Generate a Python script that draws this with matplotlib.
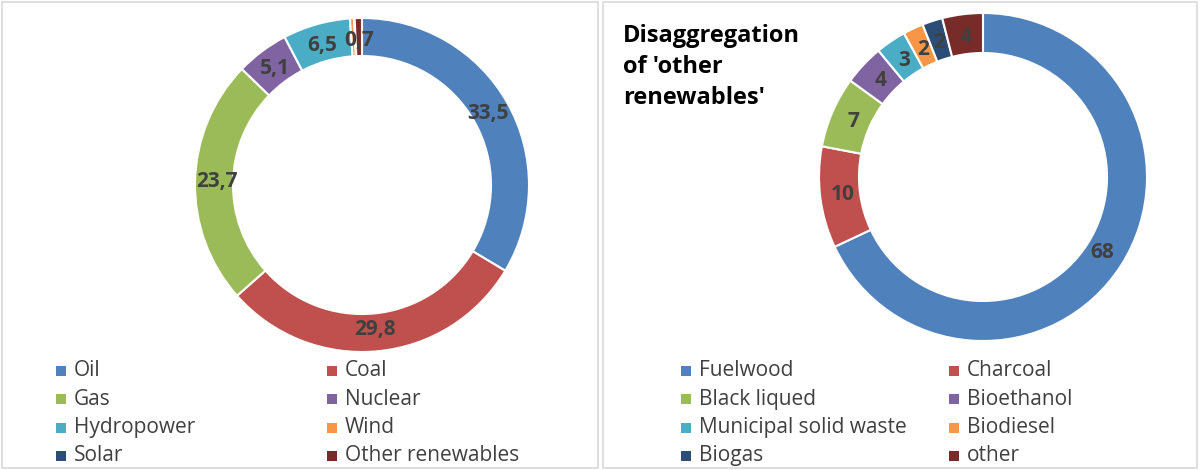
import matplotlib; matplotlib.use("Agg")
import matplotlib.pyplot as plt
from matplotlib.patches import Rectangle
import numpy as np

plt.rcParams["font.family"] = ["Open Sans", "DejaVu Sans"]

# left donut: primary energy mix
mix_labels = ["Oil", "Coal", "Gas", "Nuclear", "Hydropower", "Wind", "Solar", "Other renewables"]
mix_values = [33.5, 29.8, 23.7, 5.1, 6.5, 0.4, 0.05, 0.7]
mix_text = ["33,5", "29,8", "23,7", "5,1", "6,5", "", "", "0,7"]

# right donut: other renewables breakdown
ren_labels = ["Fuelwood", "Charcoal", "Black liqued", "Bioethanol",
              "Municipal solid waste", "Biodiesel", "Biogas", "other"]
ren_values = [68, 10, 7, 4, 3, 2, 2, 4]
ren_text = [str(v) for v in ren_values]

COLS = ["#4F81BD", "#C0504D", "#9BBB59", "#8064A2", "#4BACC6", "#F79646", "#2C4D75", "#772C2A"]
W, H = 1200, 470

fig = plt.figure(figsize=(12, 4.7), dpi=100)
ax = fig.add_axes([0, 0, 1, 1])

# panel frames
for x0, x1 in [(2, 598), (603, 1197)]:
    ax.add_patch(Rectangle((x0, 2), x1 - x0, H - 4, fill=False, ec="#D9D9D9", lw=1.2))

def donut(vals, texts, cx, cy, R, w):
    wedges, _ = ax.pie(vals, colors=COLS, startangle=90, counterclock=False,
                       radius=R, center=(cx, cy), frame=True,
                       wedgeprops=dict(width=w, edgecolor="white", linewidth=1.5))
    for wd, t in zip(wedges, texts):
        if not t: continue
        a = np.deg2rad((wd.theta1 + wd.theta2) / 2)
        r = R - w / 2 - 3
        ax.text(cx + r * np.cos(a), cy + r * np.sin(a), t, ha="center", va="center",
                fontsize=15, fontweight="bold", color="#404040")

donut(mix_values, mix_text, 362, H - 185, 167, 38)
donut(ren_values, ren_text, 983, H - 177, 164, 40)
ax.set_xlim(0, W); ax.set_ylim(0, H); ax.set_aspect("equal"); ax.axis("off")

ax.text(623, H - 24, "Disaggregation\nof 'other\nrenewables'", ha="left", va="top",
        fontsize=17, fontweight="bold", color="black", linespacing=1.4)

def legend(labels, x_cols, y0):
    for i, (lab, c) in enumerate(zip(labels, COLS)):
        x = x_cols[i % 2]; y = H - (y0 + 28.3 * (i // 2))
        ax.add_patch(Rectangle((x - 5, y - 5), 10, 10, color=c, lw=0))
        ax.text(x + 13, y, lab, ha="left", va="center", fontsize=15, color="#404040")

legend(mix_labels, [61, 332], 371)
legend(ren_labels, [686, 954], 371)

fig.savefig("out.png", facecolor="white")
